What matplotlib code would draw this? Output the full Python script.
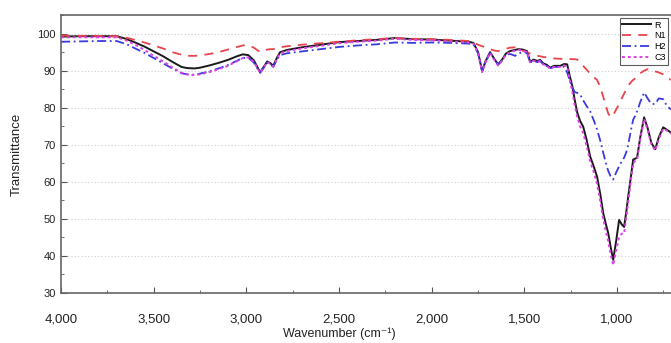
"""
FTIR transmittance spectra of samples R, N1, H2 and C3.
"""

import matplotlib
matplotlib.use("Agg")
import matplotlib.pyplot as plt
from matplotlib.ticker import MultipleLocator, FuncFormatter

plt.rcParams['font.family'] = ['Liberation Sans', 'DejaVu Sans']

# Wavenumber grid (cm-1) shared by all spectra
wavenumber = [4000, 3900, 3800, 3700, 3650, 3600, 3550, 3500, 3450, 3400,
              3350, 3320, 3280, 3250, 3200, 3150, 3100, 3050, 3020, 2990,
              2960, 2926, 2900, 2888, 2870, 2855, 2835, 2818, 2780, 2700,
              2600, 2500, 2400, 2300, 2200, 2100, 2000, 1900, 1800, 1775,
              1750, 1728, 1710, 1685, 1660, 1642, 1620, 1600, 1577, 1550,
              1534, 1510, 1486, 1469, 1450, 1431, 1415, 1399, 1380, 1361,
              1340, 1307, 1285, 1269, 1255, 1242, 1228, 1215, 1200, 1183,
              1165, 1145, 1125, 1108, 1090, 1075, 1060, 1048, 1035, 1021,
              1005, 989, 975, 962, 950, 940, 925, 913, 900, 892,
              875, 854, 835, 815, 794, 775, 751, 730, 709]

R = [99.2, 99.3, 99.3, 99.3, 98.6, 97.6, 96.5, 95.2, 93.9, 92.4,
     91.0, 90.7, 90.6, 90.8, 91.4, 92.1, 92.9, 93.9, 94.4, 94.2,
     92.8, 89.6, 91.5, 92.5, 92.0, 91.3, 93.5, 95.0, 95.6, 96.3,
     97.0, 97.7, 98.0, 98.3, 98.8, 98.5, 98.4, 98.1, 97.8, 97.5,
     95.0, 89.9, 92.5, 95.0, 93.0, 91.7, 93.0, 94.6, 95.3, 95.6,
     95.8, 95.7, 95.3, 92.4, 93.0, 92.6, 92.9, 92.0, 91.6, 90.8,
     91.3, 91.3, 91.8, 91.7, 88.5, 85.9, 82.0, 78.7, 76.5, 74.9,
     71.5, 66.8, 64.0, 61.4, 56.5, 51.6, 48.5, 46.2, 42.5, 38.9,
     44.0, 49.7, 48.5, 47.8, 52.0, 56.0, 61.5, 66.0, 66.3, 66.5,
     72.0, 77.4, 74.5, 70.5, 68.8, 72.0, 74.7, 74.0, 73.3]

N1 = [99.5, 99.4, 99.4, 99.3, 98.9, 98.3, 97.6, 96.8, 96.0, 95.0,
      94.3, 94.0, 94.0, 94.1, 94.5, 95.0, 95.7, 96.4, 96.8, 96.9,
      96.2, 95.0, 95.4, 95.7, 95.8, 95.8, 96.0, 96.3, 96.6, 97.0,
      97.4, 97.8, 98.2, 98.5, 98.8, 98.6, 98.5, 98.3, 98.0, 97.6,
      97.0, 96.6, 96.3, 95.8, 95.4, 95.3, 95.5, 95.9, 96.2, 96.3,
      96.0, 95.4, 95.0, 94.6, 94.3, 94.0, 93.9, 93.7, 93.6, 93.5,
      93.3, 93.2, 93.2, 93.1, 93.1, 93.1, 93.1, 93.0, 92.3, 91.3,
      90.3, 89.2, 88.2, 87.5, 85.5, 83.0, 80.5, 78.5, 77.4, 78.0,
      79.5, 81.0, 82.5, 83.8, 85.0, 86.0, 86.9, 87.5, 88.0, 88.3,
      89.3, 90.0, 90.4, 90.3, 89.8, 89.5, 89.0, 88.2, 87.5]

H2 = [97.8, 97.9, 98.0, 98.0, 97.2, 96.0, 94.8, 93.4, 92.0, 90.6,
      89.3, 89.0, 88.9, 89.2, 89.8, 90.6, 91.5, 92.7, 93.4, 93.5,
      92.2, 89.4, 91.2, 92.2, 91.7, 91.0, 93.0, 94.2, 94.7, 95.2,
      95.8, 96.4, 96.8, 97.1, 97.6, 97.5, 97.6, 97.5, 97.3, 97.1,
      94.7, 89.8, 92.3, 94.8, 92.8, 91.6, 92.8, 94.3, 94.5, 94.0,
      94.6, 95.0, 94.8, 92.2, 92.7, 92.3, 92.6, 91.8, 91.3, 90.6,
      91.0, 91.0, 91.0, 89.5, 87.3, 85.5, 84.2, 84.0, 83.6, 82.0,
      80.5, 79.0, 76.5, 74.1, 71.0, 67.9, 65.0, 63.0, 61.5, 60.6,
      62.5, 64.2, 65.5, 66.5, 68.0, 70.0, 74.0, 76.8, 78.0, 79.0,
      81.5, 84.1, 82.5, 81.0, 81.0, 82.5, 82.3, 80.4, 79.5]

C3 = [99.0, 99.0, 99.0, 99.0, 98.2, 97.0, 95.6, 94.0, 92.5, 90.9,
      89.4, 89.0, 88.8, 89.0, 89.6, 90.4, 91.3, 92.6, 93.4, 93.6,
      92.4, 89.4, 91.3, 92.3, 91.8, 91.1, 93.2, 94.7, 95.3, 96.0,
      96.7, 97.4, 97.8, 98.1, 98.6, 98.3, 98.2, 97.9, 97.6, 97.3,
      94.8, 89.6, 92.2, 94.8, 92.7, 91.4, 92.7, 94.3, 95.0, 95.4,
      95.6, 95.4, 95.0, 92.1, 92.7, 92.3, 92.6, 91.7, 91.3, 90.5,
      91.0, 91.0, 91.4, 91.0, 87.5, 84.5, 80.5, 77.5, 75.0, 73.2,
      69.8, 65.5, 62.5, 59.5, 54.5, 50.0, 46.5, 44.0, 40.5, 37.5,
      41.5, 45.0, 46.0, 46.0, 50.5, 54.5, 60.5, 65.0, 65.8, 66.0,
      71.5, 77.0, 74.0, 70.0, 68.5, 71.5, 74.3, 73.8, 73.0]

fig = plt.figure(figsize=(6.71, 3.43), dpi=100)
ax = fig.add_axes([0.091, 0.146, 0.909, 0.81])

ax.plot(wavenumber, R, '-', color='#1a1a1a', lw=1.4, label='R')
ax.plot(wavenumber, N1, '--', color='#e8444c', lw=1.3, label='N1',
        dashes=(5, 4))
ax.plot(wavenumber, H2, '-.', color='#3a3ae0', lw=1.3, label='H2',
        dashes=(5, 2, 1, 2))
ax.plot(wavenumber, C3, ':', color='#e040e8', lw=1.4, label='C3',
        dashes=(1.5, 1.5))

ax.set_xlim(4000, 709)
ax.set_ylim(30, 105)

ax.xaxis.set_major_locator(MultipleLocator(500))
ax.xaxis.set_minor_locator(MultipleLocator(250))
ax.yaxis.set_major_locator(MultipleLocator(10))
ax.yaxis.set_minor_locator(MultipleLocator(5))
ax.xaxis.set_major_formatter(FuncFormatter(lambda v, p: f"{int(v):,}"))

ax.tick_params(axis='both', which='both', direction='in', colors='#555555',
               labelcolor='#222222')
ax.tick_params(axis='x', which='major', length=4, pad=15, labelsize=9.5)
ax.tick_params(axis='x', which='minor', length=2.5)
ax.tick_params(axis='y', which='major', length=4, pad=4, labelsize=8)
ax.tick_params(axis='y', which='minor', length=2.5)

ax.grid(axis='y', which='major', linestyle=(0, (1, 2)), color='#cccccc',
        lw=0.8)

for side in ['left', 'top', 'bottom']:
    ax.spines[side].set_color('#666666')
    ax.spines[side].set_linewidth(1.2)
ax.spines['right'].set_visible(False)

ax.set_xlabel("Wavenumber (cm\u207b\u00b9)", size=9, color='#222222')
ax.xaxis.set_label_coords(0.457, -0.124)
ax.set_ylabel("Transmittance", size=9.5, color='#222222')
ax.yaxis.set_label_coords(-0.062, 0.5)

leg = ax.legend(loc='upper right', fontsize=6.5, frameon=True, fancybox=False,
                edgecolor='#333333', borderpad=0.3, labelspacing=0.2,
                handlelength=3.2, handletextpad=0.3, borderaxespad=0.3)
leg.get_frame().set_linewidth(0.8)

plt.savefig("out.png", dpi=100)
